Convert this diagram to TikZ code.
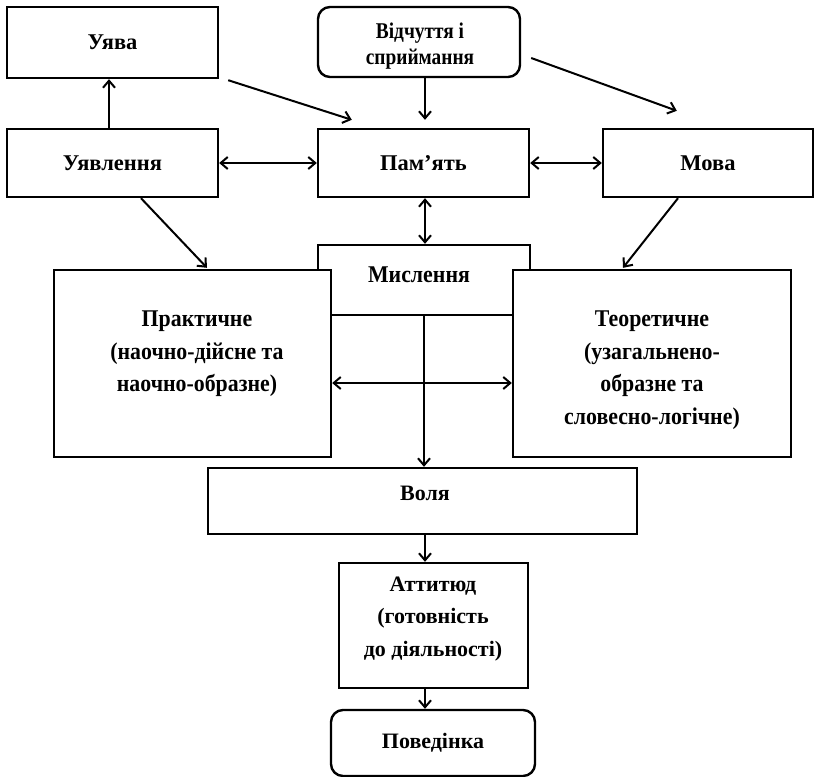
\documentclass[tikz,border=0pt]{standalone}
\usepackage{fontspec}
\setmainfont{Liberation Serif}
\newfontfamily\narrowfont{Liberation Serif}[FakeStretch=0.86]
\newfontfamily\slimfont{Liberation Serif}[FakeStretch=0.91]
\usetikzlibrary{arrows.meta}

\begin{document}
\begin{tikzpicture}[x=1pt,y=-1pt,
  box/.style={draw=black, line width=2.4pt, fill=white, inner sep=0pt, align=center},
  roundbox/.style={box, rounded corners=12pt},
  lbl/.style={inner sep=0pt, align=center},
  topfont/.style={font=\bfseries\fontsize{22.5}{25}\selectfont},
  narrowtop/.style={font=\narrowfont\bfseries\fontsize{22.5}{26}\selectfont},
  midfont/.style={font=\slimfont\bfseries\fontsize{24}{32.5}\selectfont},
  lowfont/.style={font=\bfseries\fontsize{22}{32.5}\selectfont},
  arr/.style={line width=2pt, -{Straight Barb[length=7pt,width=12pt,line width=2pt]}},
  darr/.style={line width=2pt, {Straight Barb[length=7pt,width=12pt,line width=2pt]}-{Straight Barb[length=7pt,width=12pt,line width=2pt]}}
]
\useasboundingbox (0,0) rectangle (815,777);

% upper row
\node[box, topfont, minimum width=211, minimum height=71] (uyava) at (112.5,42.5) {Уява};
\node[roundbox, minimum width=202, minimum height=70] (vidch) at (419,42) {};
\node[lbl, narrowtop] (vidch-t) at (420,46) {Відчуття і\\сприймання};

% second row
\node[box, topfont, minimum width=211, minimum height=68] (uyavl) at (112.5,163) {Уявлення};
\node[box, topfont, minimum width=211, minimum height=68] (pamyat) at (423.5,163) {Пам’ять};
\node[box, topfont, minimum width=210, minimum height=68] (mova) at (708,163) {Мова};

% thinking and its two kinds (the side boxes sit over the central one)
\node[box, minimum width=212, minimum height=70] (mysl) at (424,280) {};
\node[lbl, midfont] (mysl-t) at (419,275) {Мислення};
\node[box, minimum width=277, minimum height=187] (prakt) at (192.5,363.5) {};
\node[lbl, midfont] (prakt-t) at (197,354) {Практичне\\(наочно-дійсне та\\наочно-образне)};
\node[box, minimum width=278, minimum height=187] (teor) at (652,363.5) {};
\node[lbl, midfont] (teor-t) at (652,370) {Теоретичне\\(узагальнено-\\образне та\\словесно-логічне)};

% lower chain
\node[box, minimum width=429, minimum height=66] (volya) at (422.5,501) {};
\node[lbl, lowfont] (volya-t) at (425,493) {Воля};
\node[box, minimum width=189, minimum height=125] (attitud) at (433.5,625.5) {};
\node[lbl, lowfont] (attitud-t) at (433,619) {Аттитюд\\(готовність\\до діяльності)};
\node[roundbox, lowfont, minimum width=204, minimum height=66] (poved) at (433,743) {Поведінка};

% connectors
\draw[arr] ([xshift=-3.5]uyavl.north) -- ([xshift=-3.5]uyava.south);
\draw[arr] ([xshift=9,yshift=-1]uyava.south east) -- ([xshift=35,yshift=8]pamyat.north west);
\draw[arr] ([xshift=6]vidch.south) -- ([xshift=1.5,yshift=8]pamyat.north);
\draw[arr] ([xshift=10,yshift=-16]vidch.east) -- ([xshift=75,yshift=17]mova.north west);
\draw[darr] (uyavl.east) -- (pamyat.west);
\draw[darr] (pamyat.east) -- (mova.west);
\draw[darr] ([xshift=1.5]pamyat.south) -- ([xshift=1]mysl.north);
\draw[arr] ([xshift=28.5]uyavl.south) -- ([xshift=14.5,yshift=1]prakt.north);
\draw[arr] ([xshift=-30]mova.south) -- ([xshift=-29,yshift=1]teor.north);
\draw[darr] ([yshift=-19.5]prakt.east) -- ([yshift=-19.5]teor.west);
\draw[arr] (mysl.south) -- ([xshift=1.5]volya.north);
\draw[arr] ([xshift=2.5]volya.south) -- ([xshift=-8.5]attitud.north);
\draw[arr] ([xshift=-8.5]attitud.south) -- ([xshift=-8]poved.north);
\end{tikzpicture}
\end{document}
